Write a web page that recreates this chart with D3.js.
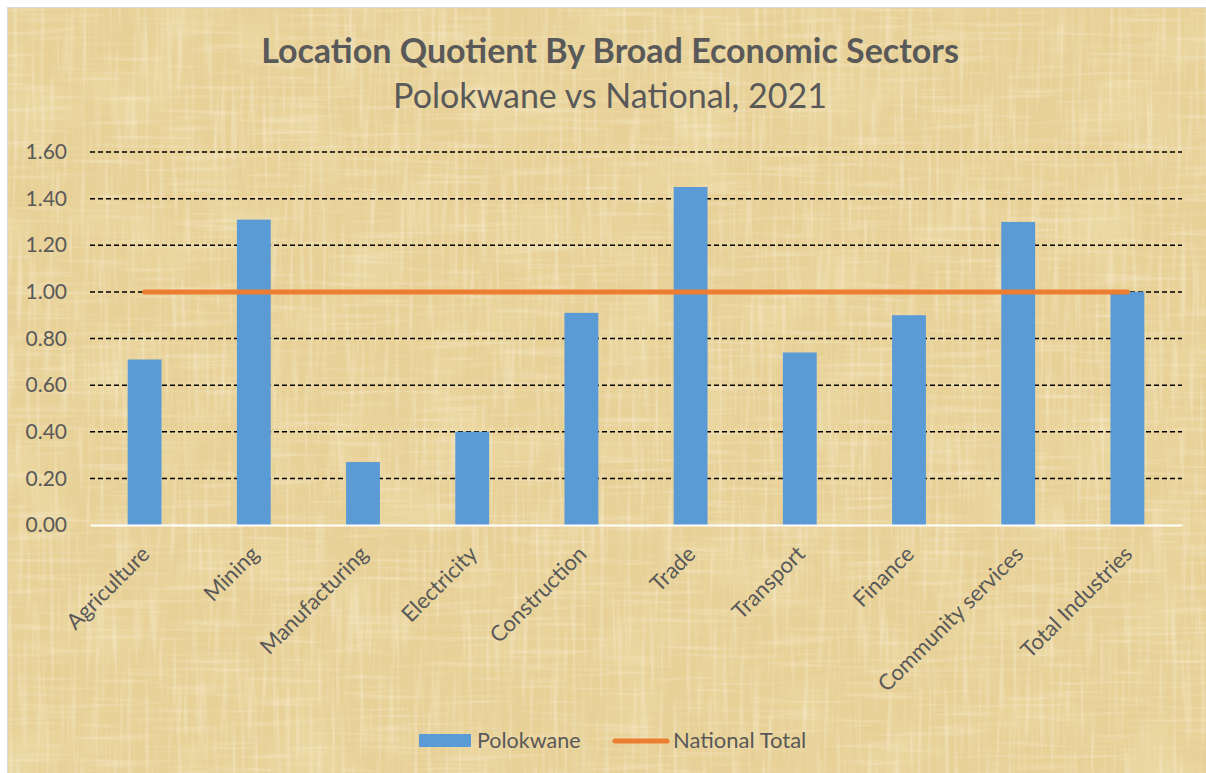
<!DOCTYPE html>
<html>
<head>
<meta charset="utf-8">
<script src="https://cdn.jsdelivr.net/npm/d3@7"></script>
<style>
  body { margin: 0; background: #fff; }
  text { font-family: Lato, "Open Sans", sans-serif; fill: #595959; }
</style>
</head>
<body>
<div id="chart"></div>
<script>
const sectors = ["Agriculture", "Mining", "Manufacturing", "Electricity", "Construction",
  "Trade", "Transport", "Finance", "Community services", "Total Industries"];
const polokwane = [0.71, 1.31, 0.27, 0.40, 0.91, 1.45, 0.74, 0.90, 1.30, 1.00];
const national = [1.00, 1.00, 1.00, 1.00, 1.00, 1.00, 1.00, 1.00, 1.00, 1.00];
const yTicks = [0, 0.2, 0.4, 0.6, 0.8, 1.0, 1.2, 1.4, 1.6];

const W = 1206, H = 773;
const margin = {top: 152, right: 24, bottom: 248, left: 90};
const width = W - margin.left - margin.right;
const height = H - margin.top - margin.bottom;

const svg = d3.select("#chart").append("svg")
  .attr("width", W)
  .attr("height", H);

// papyrus-ish background: blotches + fine vertical and horizontal fibres
const defs = svg.append("defs");
function noiseFilter(id, freq, seed, rgb, gain, offset) {
  const f = defs.append("filter").attr("id", id)
    .attr("x", 0).attr("y", 0).attr("width", "100%").attr("height", "100%");
  f.append("feTurbulence").attr("type", "fractalNoise")
    .attr("baseFrequency", freq).attr("numOctaves", 2).attr("seed", seed);
  f.append("feColorMatrix").attr("type", "matrix")
    .attr("values", `0 0 0 0 ${rgb[0]}  0 0 0 0 ${rgb[1]}  0 0 0 0 ${rgb[2]}  ${gain} 0 0 0 ${offset}`);
}
noiseFilter("blotch", "0.015 0.015", 2, [0.85, 0.74, 0.42], 1.4, -0.72);
noiseFilter("vfib", "0.22 0.012", 4, [0.97, 0.9, 0.75], 1.1, -0.55);
noiseFilter("hfib", "0.012 0.22", 7, [0.97, 0.9, 0.75], 1.0, -0.52);
noiseFilter("vdark", "0.18 0.01", 11, [0.82, 0.7, 0.4], 1.2, -0.62);

svg.append("rect").attr("x", 7.5).attr("y", 7.5).attr("width", W).attr("height", H)
  .attr("fill", "#e8d197").attr("stroke", "#d9d9d9");
["blotch", "vdark", "vfib", "hfib"].forEach(id => {
  svg.append("rect").attr("x", 8).attr("y", 8).attr("width", W).attr("height", H)
    .attr("filter", `url(#${id})`);
});

// titles
svg.append("text")
  .attr("x", 610).attr("y", 63)
  .attr("text-anchor", "middle")
  .attr("font-size", "34px")
  .attr("font-weight", "bold")
  .text("Location Quotient By Broad Economic Sectors");

svg.append("text")
  .attr("x", 610).attr("y", 108)
  .attr("text-anchor", "middle")
  .attr("font-size", "34px")
  .text("Polokwane vs National, 2021");

const g = svg.append("g")
  .attr("transform", `translate(${margin.left},${margin.top})`);

const x = d3.scaleBand()
  .domain(sectors)
  .range([0, width])
  .paddingInner(0.69)
  .paddingOuter(0.345);

const y = d3.scaleLinear()
  .domain([0, 1.6])
  .range([height, 0]);

// gridlines
g.append("g")
  .selectAll("line")
  .data(yTicks.filter(d => d > 0))
  .enter().append("line")
    .attr("x1", 0)
    .attr("x2", width)
    .attr("y1", d => y(d))
    .attr("y2", d => y(d))
    .attr("stroke", "#000")
    .attr("stroke-width", 1.5)
    .attr("stroke-dasharray", "5,3");

// y axis labels
const yAxis = g.append("g")
  .call(d3.axisLeft(y).tickValues(yTicks).tickFormat(d3.format(".2f")).tickSize(0).tickPadding(23));
yAxis.select(".domain").remove();
yAxis.selectAll("text")
  .attr("font-size", "21px")
  .attr("font-family", "Lato, sans-serif")
  .attr("fill", "#595959");

// bars
g.selectAll("rect.bar")
  .data(polokwane)
  .enter().append("rect")
    .attr("class", "bar")
    .attr("x", (d, i) => x(sectors[i]))
    .attr("y", d => y(d))
    .attr("width", x.bandwidth())
    .attr("height", d => height - y(d))
    .attr("fill", "#5b9bd5");

// x axis
const xAxis = g.append("g")
  .attr("transform", `translate(0,${height})`)
  .call(d3.axisBottom(x).tickSize(0).tickPadding(0));
xAxis.select(".domain")
  .attr("stroke", "#fff")
  .attr("stroke-width", 2);
xAxis.selectAll("text")
  .attr("font-size", "22px")
  .attr("font-family", "Lato, sans-serif")
  .attr("fill", "#595959")
  .attr("text-anchor", "end")
  .attr("dy", "0.35em")
  .attr("transform", "translate(1,25) rotate(-45)");

// national line
const line = d3.line()
  .x((d, i) => x(sectors[i]) + x.bandwidth() / 2)
  .y(d => y(d));

g.append("path")
  .datum(national)
  .attr("d", line)
  .attr("fill", "none")
  .attr("stroke", "#ed7d31")
  .attr("stroke-width", 5)
  .attr("stroke-linecap", "round");

// legend
const legend = svg.append("g");
legend.append("rect")
  .attr("x", 419).attr("y", 734)
  .attr("width", 52).attr("height", 13)
  .attr("fill", "#5b9bd5");
legend.append("text")
  .attr("x", 477).attr("y", 748)
  .attr("font-size", "21.5px")
  .text("Polokwane");
legend.append("line")
  .attr("x1", 615).attr("x2", 667)
  .attr("y1", 741).attr("y2", 741)
  .attr("stroke", "#ed7d31")
  .attr("stroke-width", 5)
  .attr("stroke-linecap", "round");
legend.append("text")
  .attr("x", 673).attr("y", 748)
  .attr("font-size", "22px")
  .text("National Total");
</script>
</body>
</html>
